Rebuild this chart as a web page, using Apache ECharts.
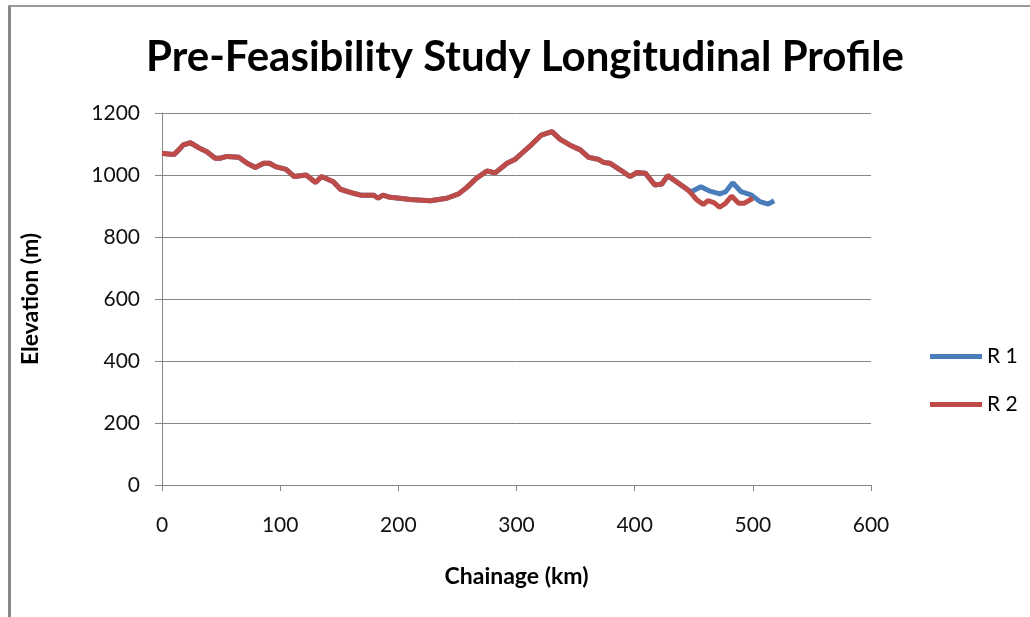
<!DOCTYPE html>
<html>
<head>
<meta charset="utf-8">
<script src="https://cdn.jsdelivr.net/npm/echarts@6/dist/echarts.min.js"></script>
<style>
html,body{margin:0;padding:0;background:#fff;}
#chart{width:1030px;height:617px;}
</style>
</head>
<body>
<div id="chart"></div>
<script>
// Shared profile (both routes follow the same alignment up to ~445 km)
const commonKm   = [0,5,10,14,18,24,32,38,45,49,55,65,72,79,86,91,96,105,112,122,130,135,145,151,162,168,179,183,187,193,201,210,227,241,251,258,266,275,282,292,299,306,313,321,330,337,345,354,361,369,374,379,388,396,402,409,417,423,428,438,445];
const commonElev = [1070,1068,1066,1080,1097,1104,1086,1075,1054,1054,1060,1057,1038,1024,1038,1038,1027,1018,995,1000,976,995,978,954,941,935,935,925,935,928,925,921,917,925,939,960,989,1013,1007,1038,1051,1075,1099,1129,1140,1115,1097,1081,1057,1051,1040,1038,1016,995,1008,1006,968,971,998,971,952];
// Route-specific tails
const r1Km   = [448,456,463,472,477,483,490,499,506,513,518];
const r1Elev = [946,962,949,939,946,975,946,935,914,906,917];
const r2Km   = [448,452,458,462,467,472,477,482,488,493,500];
const r2Elev = [940,922,905,917,911,896,909,932,909,909,925];
const seriesNames = ['R 1','R 2'];
const xTicks = {min:0,max:600,interval:100};
const yTicks = {min:0,max:1200,interval:200};

function pairs(kms, elevs){ return kms.map((k,i)=>[k, elevs[i]]); }
const r1Data = pairs(commonKm, commonElev).concat(pairs(r1Km, r1Elev));
const r2Data = pairs(commonKm, commonElev).concat(pairs(r2Km, r2Elev));

const chart = echarts.init(document.getElementById('chart'));
const font = 'Lato, "Open Sans", sans-serif';
chart.setOption({
  animation:false,
  backgroundColor:'#fff',
  title:{
    text:'Pre-Feasibility Study Longitudinal Profile',
    left:141, top:31,
    textStyle:{fontFamily:font,fontWeight:'bold',fontSize:42,color:'#000'}
  },
  legend:{
    orient:'vertical', left:925, top:341, itemGap:27,
    itemWidth:52, itemHeight:5, icon:'rect',
    textStyle:{fontFamily:font,fontSize:21,color:'#000'},
    data:seriesNames
  },
  grid:{left:162,right:159,top:113,bottom:132},
  xAxis:{
    type:'value', min:xTicks.min, max:xTicks.max, interval:xTicks.interval,
    name:'Chainage (km)', nameLocation:'middle', nameGap:80,
    nameTextStyle:{fontFamily:font,fontWeight:'bold',fontSize:23,color:'#000'},
    axisLine:{lineStyle:{color:'#868686'}},
    axisTick:{show:true,length:6,lineStyle:{color:'#868686'}},
    axisLabel:{margin:30,fontFamily:font,fontSize:21,color:'#111'},
    splitLine:{show:false}
  },
  yAxis:{
    type:'value', min:yTicks.min, max:yTicks.max, interval:yTicks.interval,
    name:'Elevation (m)', nameLocation:'middle', nameGap:120, nameRotate:90,
    nameTextStyle:{fontFamily:font,fontWeight:'bold',fontSize:23,color:'#000'},
    axisLine:{show:true,lineStyle:{color:'#868686'}},
    axisTick:{show:true,length:7,lineStyle:{color:'#868686'}},
    axisLabel:{margin:22,fontFamily:font,fontSize:21,color:'#111',formatter:v=>String(v)},
    splitLine:{lineStyle:{color:'#868686',width:1}}
  },
  series:[
    {name:seriesNames[0],type:'line',data:r1Data,showSymbol:false,symbol:'none',
     lineStyle:{width:5,color:'#4A7EBB'},itemStyle:{color:'#4A7EBB'}},
    {name:seriesNames[1],type:'line',data:r2Data,showSymbol:false,symbol:'none',
     lineStyle:{width:5,color:'#BE4B48'},itemStyle:{color:'#BE4B48'}}
  ],
  graphic:[
    {type:'rect',shape:{x:8,y:5,width:3,height:612},style:{fill:'#888'},silent:true},
    {type:'rect',shape:{x:8,y:5,width:1022,height:2},style:{fill:'#999'},silent:true}
  ]
});
</script>
</body>
</html>
